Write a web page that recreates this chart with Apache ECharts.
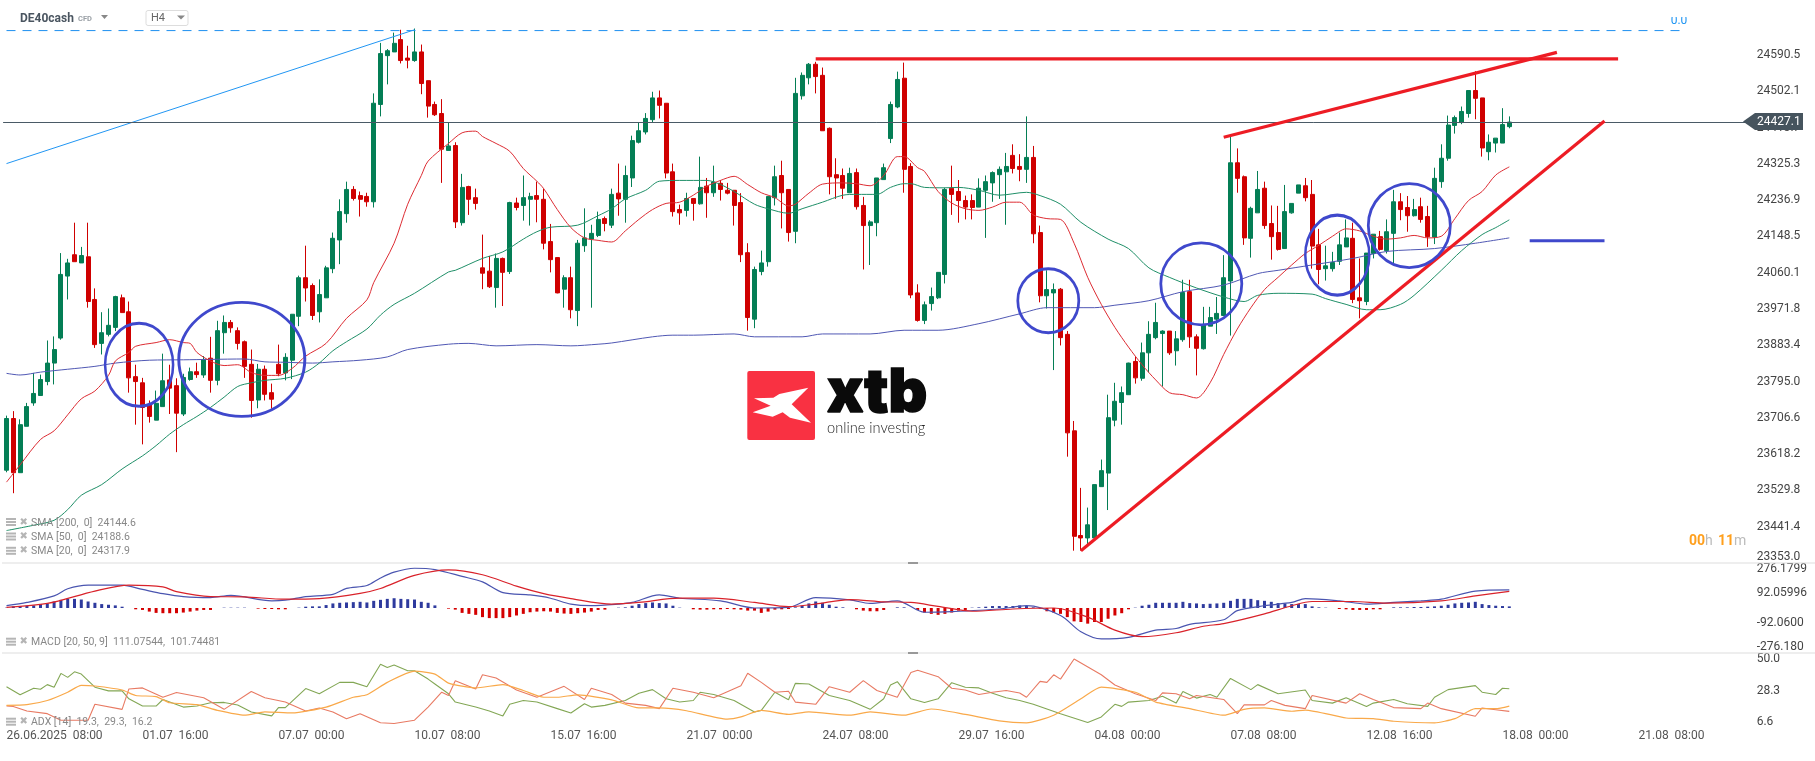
<!DOCTYPE html>
<html><head><meta charset="utf-8"><title>DE40cash</title>
<style>html,body{margin:0;padding:0;background:#fff}#c{width:1815px;height:761px}</style>
<script src="https://cdn.jsdelivr.net/npm/echarts@6/dist/echarts.min.js"></script></head>
<body><div id="c"></div>
<script>
const opens=[23579,23705,23573,23686,23743,23761,23795,23840,23901,24052,
24104,24084,24099,23995,23888,23910,23927,23999,23965,23807,
23792,23738,23701,23734,23799,23785,23716,23800,23819,23811,
23852,23798,23914,23939,23919,23892,23837,23750,23825,23768,
23837,23816,23847,23954,24048,24029,23965,23999,24070,24140,
24204,24263,24248,24246,24233,24470,24589,24598,24628,24583,
24577,24598,24528,24470,24448,24358,24370,24182,24270,24243,
24072,24064,24024,24095,24063,24230,24224,24239,24248,24239,
24136,24097,24020,24048,23968,24126,24142,24151,24192,24176,
24254,24239,24291,24378,24403,24433,24486,24473,24306,24214,
24212,24241,24228,24271,24255,24278,24261,24261,24231,24109,
23947,24063,24087,24243,24297,24263,24161,24491,24535,24568,
24541,24412,24299,24297,24255,24304,24224,24175,24182,24287,
24387,24464,24534,24319,24011,23944,23985,23999,24056,24266,
24258,24236,24236,24220,24261,24279,24299,24306,24346,24319,
24312,24341,24158,24004,24011,24020,23910,23675,23420,23414,
23414,23539,23572,23701,23744,23763,23844,23803,23865,23902,
23912,23918,23870,23897,24014,23904,23875,23930,23947,23956,
24040,24328,24294,24144,24206,24266,24180,24158,24119,24206,
24254,24272,24251,24128,24070,24070,24088,24123,24144,23999,
23990,24107,24148,24114,24156,24233,24219,24199,24221,24197,
24147,24282,24339,24419,24426,24448,24504,24486,24355,24376,
24376,24416];
const closes=[23705,23573,23690,23734,23766,23800,23840,23873,24056,24084,
24087,24102,23990,23885,23914,23932,24002,23963,23804,23795,
23732,23710,23742,23797,23779,23718,23805,23819,23812,23848,
23798,23919,23939,23926,23888,23832,23749,23825,23764,23752,
23814,23854,23959,24048,24023,23956,24007,24072,24144,24209,
24263,24241,24239,24233,24473,24594,24601,24619,24577,24578,
24598,24521,24466,24445,24361,24369,24184,24268,24239,24229,
24059,24026,24095,24061,24231,24219,24243,24246,24239,24132,
24092,24011,24048,23970,24132,24145,24156,24190,24180,24251,
24240,24297,24382,24406,24436,24486,24468,24303,24209,24206,
24241,24229,24268,24255,24281,24263,24254,24224,24104,23951,
24068,24084,24246,24294,24255,24158,24497,24541,24568,24538,
24406,24294,24291,24266,24302,24221,24175,24184,24291,24316,
24470,24531,24312,24006,23944,23982,24002,24061,24263,24251,
24236,24220,24219,24266,24282,24304,24312,24319,24314,24312,
24341,24155,24004,24019,24019,23902,23670,23418,23414,23446,
23544,23578,23707,23747,23768,23840,23804,23865,23910,23939,
23918,23865,23899,24012,23904,23876,23933,23951,23961,24048,
24328,24290,24145,24217,24263,24175,24148,24117,24209,24229,
24274,24243,24125,24068,24077,24085,24128,24145,23995,23992,
24108,24154,24117,24160,24233,24214,24199,24214,24190,24148,
24290,24339,24420,24438,24453,24504,24485,24364,24378,24388,
24421,24427.1];
const lows=[23574,23523,23573,23686,23736,23761,23786,23788,23897,23995,
24087,24084,23975,23877,23861,23905,23918,23963,23768,23690,
23642,23695,23701,23734,23716,23623,23711,23797,23804,23804,
23768,23786,23863,23914,23873,23804,23707,23730,23749,23729,
23808,23798,23801,23930,23990,23945,23939,23999,24059,24081,
24182,24236,24197,24221,24219,24441,24519,24598,24570,24558,
24574,24495,24438,24442,24279,24358,24169,24175,24201,24214,
24020,24023,23975,23979,24057,24212,24187,24175,24183,24117,
24061,24010,23975,23949,23930,24111,23975,24147,24161,24169,
24199,24182,24269,24375,24397,24427,24436,24290,24197,24177,
24197,24187,24226,24194,24245,24236,24251,24175,24086,23919,
23925,24054,24075,24224,24168,24136,24132,24482,24519,24497,
24406,24251,24240,24240,24254,24214,24068,24079,24149,24287,
24376,24461,24255,23998,23941,23935,23968,23996,24034,24201,
24182,24190,24190,24220,24145,24233,24240,24177,24302,24283,
24279,24132,23988,23973,23823,23883,23612,23383,23383,23399,
23414,23539,23482,23686,23690,23763,23790,23797,23817,23898,
23783,23860,23834,23892,23877,23810,23873,23930,23911,23956,
23907,24255,24128,24097,24206,24167,24092,24114,24118,24204,
24254,24234,24070,24032,24041,24063,24079,24123,23986,23949,
23981,24095,24114,24107,24083,24188,24160,24197,24182,24123,
24130,24267,24333,24399,24422,24438,24434,24343,24334,24353,
24376,24412];
const highs=[23712,23723,23703,23743,23816,23812,23895,23905,24108,24094,
24182,24123,24182,24022,23964,23973,24004,24007,23990,23836,
23804,23749,23773,23863,23836,23803,23814,23829,23841,23857,
23904,23943,23956,23945,23927,23895,23873,23838,23834,23790,
23885,23864,23959,24053,24126,24034,24044,24077,24158,24239,
24282,24271,24258,24255,24497,24620,24605,24645,24652,24613,
24655,24616,24528,24477,24483,24426,24378,24301,24272,24265,
24153,24101,24107,24097,24233,24243,24297,24255,24282,24265,
24179,24097,24054,24075,24140,24217,24177,24209,24197,24265,
24326,24321,24394,24426,24449,24501,24504,24473,24326,24226,
24255,24241,24343,24291,24321,24286,24279,24261,24254,24132,
24075,24114,24246,24321,24333,24263,24535,24548,24571,24574,
24560,24414,24339,24314,24316,24314,24245,24188,24291,24326,
24477,24550,24572,24327,24032,23990,24024,24061,24267,24321,
24286,24248,24251,24290,24297,24307,24319,24352,24373,24349,
24441,24369,24175,24066,24034,24023,23918,23699,23536,23488,
23544,23605,23763,23792,23783,23841,23855,23890,23942,23987,
23920,23918,23918,24043,24043,23910,23977,23977,24001,24103,
24392,24363,24297,24221,24308,24282,24224,24223,24274,24229,
24274,24291,24286,24167,24126,24111,24158,24190,24182,24095,
24108,24154,24162,24190,24262,24254,24247,24240,24243,24223,
24316,24373,24443,24443,24465,24504,24551,24486,24397,24388,
24461,24441];
const sma20=[[0,23550],[2,23592],[5,23654],[7,23675],[9,23714],[11,23753],[13,23772],[15,23810],[16,23845],[18,23866],[19,23881],[22,23890],[24,23897],[26,23890],[27,23888],[28,23866],[30,23845],[32,23834],[34,23836],[36,23817],[38,23810],[40,23810],[42,23827],[44,23857],[47,23888],[50,23949],[53,23994],[54,24036],[57,24132],[59,24227],[61,24297],[62,24332],[65,24375],[67,24401],[69,24405],[70,24392],[72,24375],[74,24356],[76,24314],[78,24283],[79,24265],[81,24214],[83,24170],[85,24145],[87,24139],[89,24135],[91,24162],[93,24190],[95,24214],[97,24229],[99,24232],[101,24249],[103,24271],[105,24285],[107,24295],[109,24275],[111,24255],[113,24243],[115,24223],[116,24227],[118,24254],[120,24276],[123,24279],[125,24277],[127,24272],[129,24297],[131,24343],[132,24343],[134,24316],[135,24307],[137,24258],[139,24230],[141,24216],[143,24212],[145,24220],[147,24232],[149,24232],[151,24201],[153,24192],[155,24190],[157,24132],[159,24049],[161,23983],[163,23927],[165,23879],[167,23836],[169,23799],[171,23768],[173,23763],[175,23755],[177,23792],[179,23861],[181,23923],[183,23975],[185,24019],[187,24049],[189,24079],[191,24107],[193,24127],[195,24149],[197,24167],[199,24162],[201,24149],[203,24142],[205,24145],[207,24151],[209,24145],[211,24149],[213,24192],[215,24236],[217,24258],[219,24298],[221,24318]];
const sma50=[[0,23432],[4,23445],[7,23457],[9,23483],[11,23518],[14,23544],[17,23582],[20,23614],[22,23639],[24,23667],[26,23690],[28,23710],[30,23732],[32,23757],[34,23783],[36,23792],[38,23798],[41,23803],[44,23818],[46,23840],[48,23870],[50,23892],[53,23923],[55,23957],[57,23983],[60,24010],[65,24062],[66,24066],[70,24095],[73,24111],[76,24142],[78,24160],[80,24171],[84,24176],[87,24199],[89,24216],[91,24240],[94,24261],[96,24283],[99,24285],[103,24285],[105,24275],[107,24258],[110,24227],[112,24216],[115,24205],[117,24216],[120,24232],[123,24249],[125,24251],[128,24251],[130,24268],[132,24277],[133,24277],[135,24268],[138,24267],[140,24268],[143,24261],[146,24249],[150,24256],[152,24248],[155,24227],[158,24183],[162,24142],[165,24119],[168,24072],[171,24049],[175,24023],[179,24001],[182,23990],[184,24005],[187,24010],[192,24008],[194,23997],[197,23983],[200,23970],[202,23970],[205,23983],[207,24005],[211,24066],[214,24114],[217,24153],[219,24170],[221,24189]];
const sma200=[[0,23815],[2,23811],[5,23818],[9,23825],[13,23832],[16,23840],[21,23847],[26,23848],[30,23849],[35,23850],[38,23843],[41,23842],[45,23840],[48,23843],[52,23847],[56,23855],[59,23873],[65,23886],[68,23888],[72,23882],[78,23885],[83,23882],[87,23886],[89,23889],[95,23904],[98,23908],[101,23908],[107,23911],[110,23904],[117,23904],[120,23911],[127,23911],[132,23920],[137,23920],[143,23936],[149,23960],[153,23975],[160,23975],[163,23981],[168,23992],[173,24014],[179,24030],[184,24058],[187,24066],[192,24079],[198,24095],[203,24112],[210,24119],[216,24132],[221,24145]];
const macdLine=[[0,14],[3,34],[7,74],[9,118],[12,140],[17,140],[20,114],[23,88],[26,70],[30,64],[33,78],[39,44],[41,48],[44,70],[48,84],[50,120],[53,138],[55,184],[57,220],[60,244],[63,236],[67,194],[70,160],[73,94],[77,80],[80,60],[83,24],[86,14],[90,24],[92,34],[96,80],[99,60],[105,44],[110,0],[115,4],[119,64],[124,50],[127,28],[131,44],[135,-26],[139,-22],[146,-6],[150,14],[155,-46],[158,-146],[161,-190],[165,-180],[169,-136],[172,-126],[174,-100],[179,-72],[181,-16],[185,14],[189,34],[191,58],[196,44],[200,24],[204,34],[208,44],[211,54],[216,104],[221,111]];
const signalLine=[[0,4],[6,28],[13,104],[18,140],[23,130],[25,100],[30,70],[35,68],[41,54],[46,58],[52,90],[55,120],[60,200],[65,234],[70,204],[75,134],[79,88],[83,58],[89,24],[93,34],[99,60],[104,60],[110,34],[115,8],[119,24],[124,52],[129,38],[133,34],[137,10],[142,-20],[148,-6],[154,0],[159,-56],[163,-136],[167,-176],[172,-152],[176,-112],[179,-96],[185,-36],[189,14],[192,40],[198,40],[203,30],[211,44],[216,74],[221,102]];
const macdHist=[2,10,12,14,16,24,28,40,50,56,56,52,40,32,24,20,16,8,0,-8,
-12,-22,-30,-32,-32,-32,-28,-22,-16,-12,-12,0,2,2,2,2,0,-4,-6,-6,
-8,-8,0,2,8,10,10,18,28,32,34,36,38,34,44,50,56,60,56,54,
52,38,32,16,0,-4,-10,-30,-36,-42,-56,-62,-62,-62,-56,-46,-36,-26,-22,-20,
-22,-30,-34,-36,-32,-28,-22,-12,-10,0,2,4,14,24,30,34,30,28,14,2,
0,-8,-10,-10,-8,-8,-6,-8,-10,-16,-16,-30,-22,-10,-8,-6,4,14,28,40,
32,20,8,4,0,-8,-16,-20,-20,-12,0,4,4,0,-12,-28,-36,-42,-36,-28,
-16,-12,2,4,8,12,12,12,12,16,12,4,-4,-20,-28,-36,-56,-82,-86,-96,
-86,-86,-66,-46,-32,-8,2,14,20,32,32,32,32,38,30,28,24,26,28,32,
44,56,56,56,48,44,38,30,28,24,24,24,10,4,2,0,-6,-8,-12,-12,
-12,-8,-8,0,4,4,4,6,6,8,10,14,20,28,32,34,38,24,18,14,
12,10];
const adxPlus=[[0,30.5],[2,25.8],[4,29.6],[5,29],[6,31.7],[7,30.2],[8,38.2],[9,35.9],[10,39.1],[11,37.8],[13,30.2],[15,28.1],[17,28.1],[18,23.5],[20,19.3],[22,19.3],[23,23.1],[26,18.7],[28,19.3],[30,21.2],[32,21.4],[34,19.9],[36,15.9],[39,13.6],[40,18.4],[41,18.4],[44,29.4],[46,26.4],[49,33],[51,33],[53,30.5],[55,43.5],[56,41.6],[57,43.1],[59,39.7],[60,39.7],[62,34.9],[63,32.1],[65,26.4],[66,21.6],[69,18.7],[71,16.4],[73,13.6],[74,20.3],[76,22.5],[78,21.6],[81,17.8],[83,15.3],[85,20.6],[86,18.7],[88,19.7],[91,22.5],[93,26.7],[95,28.8],[97,23.5],[99,21.6],[101,22.5],[102,27.3],[104,26],[107,22.5],[110,15.9],[111,16.8],[113,27.3],[115,22.9],[116,32.4],[118,32.1],[121,25.4],[124,22.5],[127,17.4],[129,23.5],[130,31.5],[131,33.4],[133,23.5],[135,21.4],[137,23.5],[139,32.8],[141,30.2],[143,29.8],[145,26.7],[147,24.1],[149,22.5],[151,20.3],[155,14.9],[159,9.8],[161,13],[163,20.3],[164,19.1],[165,21.6],[168,22.5],[170,25],[172,21],[173,27.7],[175,23.9],[177,26],[178,24.4],[180,35.3],[183,28.8],[184,31.7],[187,26.4],[191,28.6],[192,22.5],[195,21],[197,24.1],[200,19.1],[201,21],[204,23.1],[206,20.6],[209,19.1],[210,24.4],[212,28.8],[216,31.1],[217,27.3],[219,26],[220,29.6],[221,29.3]];
const adxMain=[[0,19.7],[3,20.1],[6,22.5],[9,27.3],[11,31.3],[13,30.9],[17,28.6],[19,25.4],[22,24.8],[24,21.2],[28,20.1],[31,16.8],[35,14],[38,15.9],[42,15.3],[47,18.7],[51,24.4],[53,25.8],[56,33],[60,39.5],[63,37.8],[65,32.6],[69,29.8],[73,31.7],[76,28.3],[79,24.4],[81,24.4],[84,25.8],[89,22.9],[93,18.2],[96,18.2],[100,16.6],[106,11.7],[108,13],[111,16.8],[115,14.5],[118,15.9],[124,14],[127,15.9],[132,14],[136,17.6],[141,14.5],[146,10.7],[150,9.6],[154,14],[158,23.5],[161,30.2],[166,27.3],[169,21.6],[174,17.8],[179,14],[182,17.4],[185,18.2],[189,16.3],[191,17],[197,12.4],[201,12],[204,10.5],[210,9.6],[213,12],[216,17.8],[219,17.8],[221,19.3]];
const adxMinus=[[0,19.3],[1,19.1],[3,16.4],[6,14.9],[8,11.1],[12,11.1],[13,20.3],[17,17.4],[18,29.2],[20,29.8],[23,24.4],[25,27.1],[29,24.1],[32,17.4],[36,27.7],[38,24.1],[41,21.6],[44,16.4],[46,18.2],[48,15.9],[50,12],[52,14.9],[55,9.6],[57,9.2],[60,11.1],[62,18.7],[64,27.3],[65,25.4],[66,34],[69,29.2],[70,37.4],[72,35.5],[75,28.6],[78,24.4],[82,30.7],[85,23.1],[86,29.6],[89,26],[91,21],[94,19.7],[96,17.8],[98,29.6],[101,27.3],[104,24.1],[108,31.1],[109,38.3],[111,33],[113,27.3],[115,27.9],[116,21.6],[119,20.3],[121,30.5],[124,27.3],[126,34],[128,28.3],[131,24.4],[133,38.7],[134,40],[137,36.3],[139,29.6],[141,28.6],[143,26],[145,27.3],[147,28.3],[149,26.9],[150,24.4],[152,33.6],[153,33],[154,37.4],[155,34.9],[157,46.5],[161,37.4],[163,31.5],[166,26.4],[169,22.5],[170,26.9],[172,26.4],[174,23.5],[175,25.4],[179,23.1],[181,14.9],[182,20],[185,20],[186,22.5],[188,19.7],[191,17.8],[192,25.4],[197,21],[199,26.4],[201,23.1],[204,18.4],[208,17.8],[209,21],[211,17.8],[216,13.4],[217,18.2],[219,17.2],[221,16.2]];
const priceTicks=[23353.0,23441.4,23529.8,23618.2,23706.6,23795.0,23883.4,23971.8,24060.1,24148.5,24236.9,24325.3,24413.7,24502.1,24590.5];
const macdTicks=[-276.18,-92.06,92.05996,276.1799];
const macdTickLabels=['-276.180','-92.0600','92.05996','276.1799'];
const adxTicks=[6.6,28.3,50.0];
const xTickLabels=['26.06.2025  08:00','01.07  16:00','07.07  00:00','10.07  08:00','15.07  16:00','21.07  00:00','24.07  08:00','29.07  16:00','04.08  00:00','07.08  08:00','12.08  16:00','18.08  00:00','21.08  08:00'];
const lastPrice=24427.1;
const fiboLine=[[0,24650],[247,24650]];
const blueTrend=[[0,24326],[60,24652]];
const resistance=[[119,24581],[237,24581]];
const upperTrend=[[179,24390],[228,24597]];
const lowerTrend=[[158,23383],[235,24430]];
const markerLevel=[[224,24138],[235,24138]];
const circleCentres=[[19,23836],[35,23849],[153,23992],[176,24033],[196,24103],[206,24175]];
const circleSizes=[[68,83],[126,114],[61,64],[81,82],[64,80],[82,84]];
const circleShift=[3.4,-2.7,1.4,-2,-2,2];
const legends=['SMA [200,  0]  24144.6','SMA [50,  0]  24188.6','SMA [20,  0]  24317.9','MACD [20, 50, 9]  111.07544,  101.74481','ADX [14]  19.3,  29.3,  16.2'];
const legendY=[523,537.5,551.8,642.7,722.7];

const BAR_COUNT=257;
const categories=Array.from({length:BAR_COUNT},(_,i)=>String(i));
const candles=opens.map((o,i)=>[o,closes[i],lows[i],highs[i]]);
const FONT='Roboto';
const L=3.1,W=1747.6;
const UP='#047e55',DOWN='#cf0000';

function hiddenX(g){return {type:'category',gridIndex:g,data:categories,show:false,boundaryGap:true};}
function thin(name,data,color,xi,yi,z,width,extra){
  return Object.assign({name,type:'line',xAxisIndex:xi,yAxisIndex:yi,data,showSymbol:false,symbol:'none',silent:true,
    lineStyle:{color,width:width||1},z:z||3,animation:false},extra||{});
}
const chart=echarts.init(document.getElementById('c'),null,{renderer:'canvas'});
const yLabel={fontFamily:FONT,fontSize:12,color:'#444',margin:6};
chart.setOption({
  animation:false,backgroundColor:'#fff',
  grid:[{left:L,width:W,top:20,height:543},{left:L,width:W,top:563,height:90},{left:L,width:W,top:653,height:75}],
  xAxis:[hiddenX(0),hiddenX(1),{type:'category',gridIndex:2,data:categories,boundaryGap:true,
    axisLine:{show:false},axisTick:{show:false},splitLine:{show:false},
    axisLabel:{interval:19,align:'left',margin:2,hideOverlap:false,fontFamily:FONT,fontSize:12,color:'#555',
      formatter:(v,i)=>(+v%20===0?xTickLabels[+v/20]:'')||''}}],
  yAxis:[
    {type:'value',gridIndex:0,position:'right',min:23353,max:24675.8,axisLine:{show:false},axisTick:{show:false},splitLine:{show:false},
      axisLabel:Object.assign({},yLabel,{customValues:priceTicks,verticalAlignMinLabel:'bottom',formatter:v=>v.toFixed(1)})},
    {type:'value',gridIndex:1,position:'right',min:-276.18,max:276.1799,axisLine:{show:false},axisTick:{show:false},splitLine:{show:false},
      axisLabel:Object.assign({},yLabel,{customValues:macdTicks,verticalAlignMaxLabel:'top',verticalAlignMinLabel:'bottom',formatter:v=>macdTickLabels[macdTicks.indexOf(v)]})},
    {type:'value',gridIndex:2,position:'right',min:6.6,max:50,axisLine:{show:false},axisTick:{show:false},splitLine:{show:false},
      axisLabel:Object.assign({},yLabel,{customValues:adxTicks,verticalAlignMaxLabel:'top',verticalAlignMinLabel:'bottom',formatter:v=>v.toFixed(1)})}
  ],
  series:[
    {name:'DE40cash',type:'candlestick',xAxisIndex:0,yAxisIndex:0,data:candles,barWidth:4.4,z:2,silent:true,
      itemStyle:{color:UP,color0:DOWN,borderColor:UP,borderColor0:DOWN,borderWidth:1},
      markLine:{silent:true,symbol:'none',animation:false,label:{show:false},lineStyle:{color:'#4a5a66',width:1,type:'solid'},data:[{yAxis:lastPrice}]}},
    thin('SMA 200',sma200,'#5058b4',0,0,3,1,{smooth:0.3}),
    thin('SMA 50',sma50,'#1f8f68',0,0,3,1,{smooth:0.3}),
    thin('SMA 20',sma20,'#dd2c33',0,0,3,1,{smooth:0.3}),
    thin('Fibo',fiboLine,'#2196f3',0,0,3,1,{lineStyle:{color:'#1e90f0',width:1,type:[9,7]}}),
    thin('Blue trend',blueTrend,'#2196f3',0,0,3),
    thin('Resistance',resistance,'#ed1c24',0,0,5,3.2),
    thin('Upper trend',upperTrend,'#ed1c24',0,0,5,3.2),
    thin('Lower trend',lowerTrend,'#ed1c24',0,0,5,3.2),
    thin('Marker',markerLevel,'#3f48cc',0,0,5,3),
    {name:'Circles',type:'scatter',xAxisIndex:0,yAxisIndex:0,silent:true,z:6,
      data:circleCentres.map((c,i)=>({value:c,symbolSize:circleSizes[i],symbolOffset:[circleShift[i],0]})),
      itemStyle:{color:'rgba(0,0,0,0)',borderColor:'#3f48cc',borderWidth:2.8,opacity:1}},
    {name:'MACD hist',type:'bar',xAxisIndex:1,yAxisIndex:1,data:macdHist,barWidth:3,silent:true,z:2,
      itemStyle:{color:p=>p.value>=0?'#2e3a9e':'#d40000'}},
    thin('MACD',macdLine,'#4a55b0',1,1,3,1.2,{smooth:0.3}),
    thin('Signal',signalLine,'#d9222a',1,1,3,1.2,{smooth:0.3}),
    thin('+DI',adxPlus,'#83a755',2,2,3,1.1),
    thin('-DI',adxMinus,'#e87a63',2,2,3,1.1),
    thin('ADX',adxMain,'#f9a94a',2,2,4,1.2,{smooth:0.2})
  ]
});

const tagY=chart.convertToPixel({yAxisIndex:0},lastPrice);
const fiboY=chart.convertToPixel({yAxisIndex:0},fiboLine[0][1]);
const lx=740,ly=365;
const xMark=[[42,100],[100,98],[118,87],[205,68],[155,118],[213,173],[150,158],[128,142],[98,155],[38,142],[92,122]].map(p=>[lx+p[0]/3,ly+p[1]/3]);
const gfx=[
  {type:'line',shape:{x1:2,y1:563,x2:1815,y2:563},style:{stroke:'#ddd',lineWidth:1},z:1},
  {type:'line',shape:{x1:2,y1:653,x2:1815,y2:653},style:{stroke:'#ddd',lineWidth:1},z:1},
  {type:'rect',shape:{x:908,y:562,width:10,height:2},style:{fill:'#999'},z:2},
  {type:'rect',shape:{x:908,y:652,width:10,height:2},style:{fill:'#999'},z:2},
  {type:'text',x:20,y:18.5,style:{text:'DE40cash',font:'700 12px Roboto',fill:'#4a5560',verticalAlign:'middle'}},
  {type:'text',x:78,y:19,style:{text:'CFD',font:'700 7.5px Roboto',fill:'#9aa0a6',verticalAlign:'middle'}},
  {type:'polygon',shape:{points:[[101,15],[108,15],[104.5,19]]},style:{fill:'#888'}},
  {type:'rect',shape:{x:146,y:10.5,width:42,height:15,r:2},style:{fill:'#fff',stroke:'#ddd',lineWidth:1}},
  {type:'text',x:151,y:18.5,style:{text:'H4',font:'11px Roboto',fill:'#666',verticalAlign:'middle'}},
  {type:'polygon',shape:{points:[[177,15.5],[185,15.5],[181,19.5]]},style:{fill:'#888'}},
  {type:'text',x:1679,y:fiboY-10,style:{text:'0.0',font:'12px Roboto',fill:'#2196f3',align:'center',verticalAlign:'middle'},z:3},
  {type:'rect',shape:{x:1668,y:8,width:22,height:9},style:{fill:'#fff'},z:4},
  {type:'polygon',shape:{points:[[1743,tagY-0.5],[1755,tagY-9],[1803,tagY-9],[1803,tagY+8],[1755,tagY+8]]},style:{fill:'#46545e'},z:20},
  {type:'text',x:1757,y:tagY-0.5,style:{text:lastPrice.toFixed(1),font:'12px Roboto',fill:'#fff',verticalAlign:'middle'},z:21},
  {type:'text',x:1689,y:541,style:{text:'00',font:'700 14px Roboto',fill:'#ff9f1c',verticalAlign:'middle'}},
  {type:'text',x:1705,y:541,style:{text:'h',font:'14px Roboto',fill:'#bbb',verticalAlign:'middle'}},
  {type:'text',x:1718,y:541,style:{text:'11',font:'700 14px Roboto',fill:'#ff9f1c',verticalAlign:'middle'}},
  {type:'text',x:1734,y:541,style:{text:'m',font:'14px Roboto',fill:'#bbb',verticalAlign:'middle'}},
  {type:'rect',shape:{x:747.3,y:371,width:67.7,height:69,r:2},style:{fill:'#f93142'},z:1},
  {type:'polygon',shape:{points:xMark},style:{fill:'#fff'},z:2},
  {type:'text',x:827,y:394,style:{text:'xtb',font:'900 60px Inter',fill:'#0a0a0a',stroke:'#0a0a0a',lineWidth:1.5,verticalAlign:'middle'},z:2},
  {type:'text',x:827,y:428,style:{text:'online investing',font:'300 14.6px Lato',fill:'#222',verticalAlign:'middle'},z:2}
];
legends.forEach((t,i)=>{
  const y=legendY[i];
  [-5,-2,1].forEach(d=>gfx.push({type:'rect',shape:{x:6,y:y+d,width:10,height:2},style:{fill:'#b5b5b5'},z:7}));
  gfx.push({type:'text',x:19.5,y:y-1,style:{text:'✖',font:'10px "DejaVu Sans"',fill:'#b5b5b5',verticalAlign:'middle'},z:7});
  gfx.push({type:'text',x:31,y:y,style:{text:t,font:'10.5px Roboto',fill:'#888',verticalAlign:'middle'},z:7});
});
chart.setOption({graphic:gfx});
</script></body></html>
